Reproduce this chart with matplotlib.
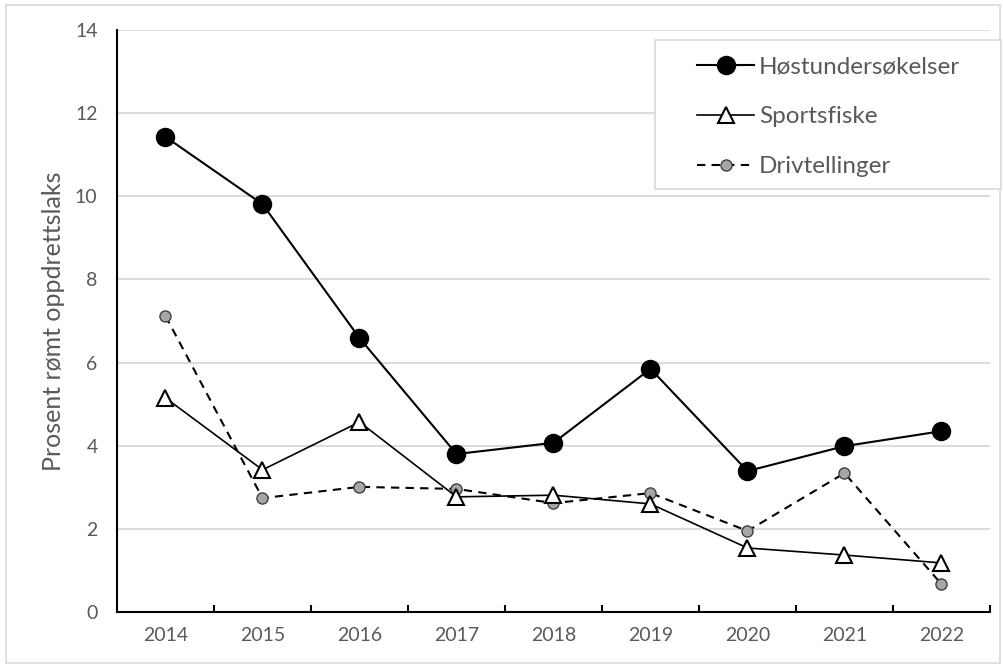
import matplotlib
matplotlib.use("Agg")
import matplotlib.pyplot as plt
import numpy as np
from matplotlib.patches import Rectangle
from matplotlib.lines import Line2D

years = ["2014", "2015", "2016", "2017", "2018", "2019", "2020", "2021", "2022"]
host = [11.43, 9.81, 6.59, 3.80, 4.07, 5.85, 3.39, 3.99, 4.35]
sport = [5.15, 3.42, 4.57, 2.77, 2.81, 2.60, 1.54, 1.37, 1.18]
driv = [7.12, 2.74, 3.01, 2.96, 2.62, 2.86, 1.95, 3.34, 0.67]
labels = ["Høstundersøkelser", "Sportsfiske", "Drivtellinger"]
y_ticks = [0, 2, 4, 6, 8, 10, 12, 14]

plt.rcParams['font.family'] = ['Lato', 'DejaVu Sans']
txt = '#595959'
W, H = 1004, 664

fig = plt.figure(figsize=(W/100, H/100), dpi=100)
fig.patches.append(Rectangle((6/W, 0.002), 0.996 - 6/W, 1 - 5/H - 0.002,
                             transform=fig.transFigure, fill=False,
                             edgecolor='#d9d9d9', linewidth=1.2))
ax = fig.add_axes([117/W, 52/H, (990-117)/W, (612-30)/H])

x = np.arange(len(years))
ax.set_xlim(-0.5, len(years) - 0.5)
ax.set_ylim(0, 14)
ax.set_yticks(y_ticks)
ax.set_yticklabels([str(t) for t in y_ticks], color=txt, fontsize=14)
ax.set_xticks(x)
ax.set_xticklabels(years, color=txt, fontsize=14)
ax.tick_params(axis='x', which='major', length=0, pad=11)
ax.tick_params(axis='y', length=0, pad=14)
ax.set_xticks(np.arange(len(years)) + 0.5, minor=True)
ax.tick_params(axis='x', which='minor', direction='in', length=5, width=1.5, color='black')
ax.grid(axis='y', color='#d9d9d9', linewidth=1.3)
ax.set_axisbelow(True)
for s in ['top', 'right']:
    ax.spines[s].set_visible(False)
ax.spines['left'].set_linewidth(1.5)
ax.spines['bottom'].set_linewidth(1.5)
ax.set_ylabel("Prosent rømt oppdrettslaks", color=txt, fontsize=18, labelpad=7)

# Høstundersøkelser
ax.plot(x, host, color='black', linewidth=1.5, marker='o', markersize=13,
        markerfacecolor='black', markeredgecolor='black', zorder=4)
# Drivtellinger
ax.plot(x, driv, color='black', linewidth=1.5, linestyle=(0, (4, 3)), marker='o', markersize=8,
        markerfacecolor='#a6a6a6', markeredgecolor='#404040', markeredgewidth=1.0, zorder=2)
# Sportsfiske
ax.plot(x, sport, color='black', linewidth=1.2, marker='^', markersize=11,
        markerfacecolor='white', markeredgecolor='black', markeredgewidth=1.5, zorder=3)

handles = [
    Line2D([], [], color='black', linewidth=1.5, marker='o', markersize=13,
           markerfacecolor='black'),
    Line2D([], [], color='black', linewidth=1.2, marker='^', markersize=11,
           markerfacecolor='white', markeredgewidth=1.5),
    Line2D([], [], color='black', linewidth=1.5, linestyle=(0, (4, 3)), marker='o',
           markersize=8, markerfacecolor='#a6a6a6', markeredgecolor='#404040'),
]
fig.patches.append(Rectangle((655/W, 1 - 189/H), (1001-655)/W, (189-40)/H,
                             transform=fig.transFigure, fill=True, facecolor='white',
                             edgecolor='#d9d9d9', linewidth=1.2, zorder=5))
leg = fig.legend(handles, labels, loc='upper left', bbox_to_anchor=(697/W, 1 - 56/H),
                 fontsize=17.5, frameon=False,
                 handlelength=2.35, labelspacing=1.2, borderpad=0.0, handletextpad=0.2,
                 borderaxespad=0)
leg.set_zorder(6)
for t in leg.get_texts():
    t.set_color(txt)

fig.savefig("out.png", dpi=100)
